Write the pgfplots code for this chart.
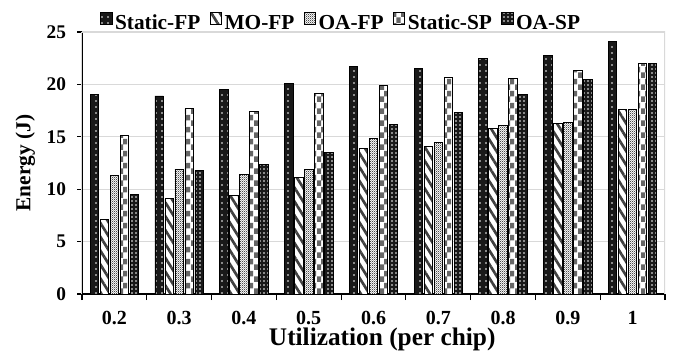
\documentclass[border=0pt]{standalone}
\usepackage{pgfplots}
\pgfplotsset{compat=1.18}
\usepackage{fontspec}
\setmainfont{Liberation Serif}
\usetikzlibrary{patterns,patterns.meta}
\pgfdeclarepatternformonly{bigchecker}{\pgfqpoint{0pt}{0pt}}{\pgfqpoint{6.4pt}{9pt}}{\pgfqpoint{6.4pt}{9pt}}{%
  \pgfpathrectangle{\pgfqpoint{0pt}{0pt}}{\pgfqpoint{3.2pt}{4.5pt}}%
  \pgfpathrectangle{\pgfqpoint{3.2pt}{4.5pt}}{\pgfqpoint{3.2pt}{4.5pt}}%
  \pgfusepath{fill}}
\pgfdeclarepatternformonly{finechecker}{\pgfqpoint{0pt}{0pt}}{\pgfqpoint{1.6pt}{1.6pt}}{\pgfqpoint{1.6pt}{1.6pt}}{%
  \pgfpathrectangle{\pgfqpoint{0pt}{0pt}}{\pgfqpoint{0.8pt}{0.8pt}}%
  \pgfpathrectangle{\pgfqpoint{0.8pt}{0.8pt}}{\pgfqpoint{0.8pt}{0.8pt}}%
  \pgfusepath{fill}}
\begin{document}
\begin{tikzpicture}
\begin{axis}[
  name=ax,
  scale only axis,
  width=437.25pt, height=196.5pt,
  ybar=1.2pt, bar width=6.3pt,
  xmin=-0.5, xmax=8.5,
  ymin=0, ymax=25,
  ytick={0,5,...,25},
  xtick={0,...,8},
  xticklabels={0.2,0.3,0.4,0.5,0.6,0.7,0.8,0.9,1},
  minor xtick={-0.5,0.5,...,8.5},
  major x tick style={draw=none},
  minor tick length=4.5pt,
  tick align=outside,
  tick pos=left,
  major tick length=3.5pt,
  tick style={black, line width=0.8pt},
  /pgf/number format/assume math mode=true,
  yticklabel style={font=\fontsize{14.5}{16}\selectfont\bfseries, xshift=-5pt},
  xticklabel style={font=\fontsize{15}{16}\selectfont\bfseries, yshift=-6pt},
  ymajorgrids, grid style={black!15, line width=0.8pt},
  axis line style={black!15, line width=0.8pt},
  axis x line*=bottom, axis y line*=left,
  ylabel={Energy (J)},
  xlabel={Utilization (per chip)},
  ylabel style={font=\fontsize{16}{18}\selectfont\bfseries, at={(axis description cs:-0.097,0.5)}, anchor=center},
  xlabel style={font=\fontsize{19}{21}\selectfont\bfseries, at={(axis description cs:0.515,0)}, anchor=base, yshift=-38.3pt},
  legend style={at={(axis description cs:0.0149,1.0)}, anchor=south west, draw=none, fill=none,
    legend columns=-1, font=\fontsize{16}{17}\selectfont\bfseries,
    nodes={inner sep=0pt},
    /tikz/every odd column/.append style={column sep=0pt},
    /tikz/every even column/.append style={column sep=0pt}, inner sep=0pt},
  legend image code/.code={\path (0pt,0pt) (17.5pt,0pt); \draw[#1,line width=0.5pt] (7pt,-0.5pt) rectangle (15.5pt,8pt);},
  every axis plot/.append style={draw=black, line width=0.6pt},
]
\draw[black, line width=0.8pt] (rel axis cs:0,0) -- (rel axis cs:0,1);
\draw[black, line width=0.8pt] (rel axis cs:0,0) -- (rel axis cs:1,0);
\draw[black!15, line width=0.8pt] (rel axis cs:0,1) -- (rel axis cs:1,1) -- (rel axis cs:1,0);
% Static-FP
\addplot[fill=black!90, postaction={pattern={Dots[distance=4.5pt, radius=0.6pt]}, pattern color=white}]
 coordinates {(0,19.0)(1,18.9)(2,19.5)(3,20.1)(4,21.7)(5,21.5)(6,22.5)(7,22.8)(8,24.1)};
% MO-FP
\addplot[fill=white, postaction={pattern={Lines[angle=-58, distance=5.5pt, line width=2pt]}, pattern color=black!75}]
 coordinates {(0,7.1)(1,9.1)(2,9.4)(3,11.1)(4,13.9)(5,14.1)(6,15.8)(7,16.3)(8,17.6)};
% OA-FP
\addplot[fill=white, postaction={pattern=finechecker, pattern color=black!70}]
 coordinates {(0,11.3)(1,11.9)(2,11.4)(3,11.9)(4,14.8)(5,14.5)(6,16.1)(7,16.4)(8,17.6)};
% Static-SP
\addplot[fill=white, postaction={pattern=bigchecker, pattern color=black!60}]
 coordinates {(0,15.1)(1,17.7)(2,17.4)(3,19.1)(4,19.9)(5,20.7)(6,20.6)(7,21.3)(8,22.0)};
% OA-SP
\addplot[fill=black!90, postaction={pattern={Dots[distance=3pt, radius=0.6pt]}, pattern color=white}]
 coordinates {(0,9.5)(1,11.8)(2,12.4)(3,13.5)(4,16.2)(5,17.3)(6,19.0)(7,20.5)(8,22.0)};
\legend{Static-FP,MO-FP,OA-FP,Static-SP,OA-SP}
\end{axis}
\pgfresetboundingbox
\useasboundingbox ([xshift=-61.5pt,yshift=-44.25pt]ax.south west) rectangle ([xshift=6pt,yshift=24pt]ax.north east);
\end{tikzpicture}
\end{document}
